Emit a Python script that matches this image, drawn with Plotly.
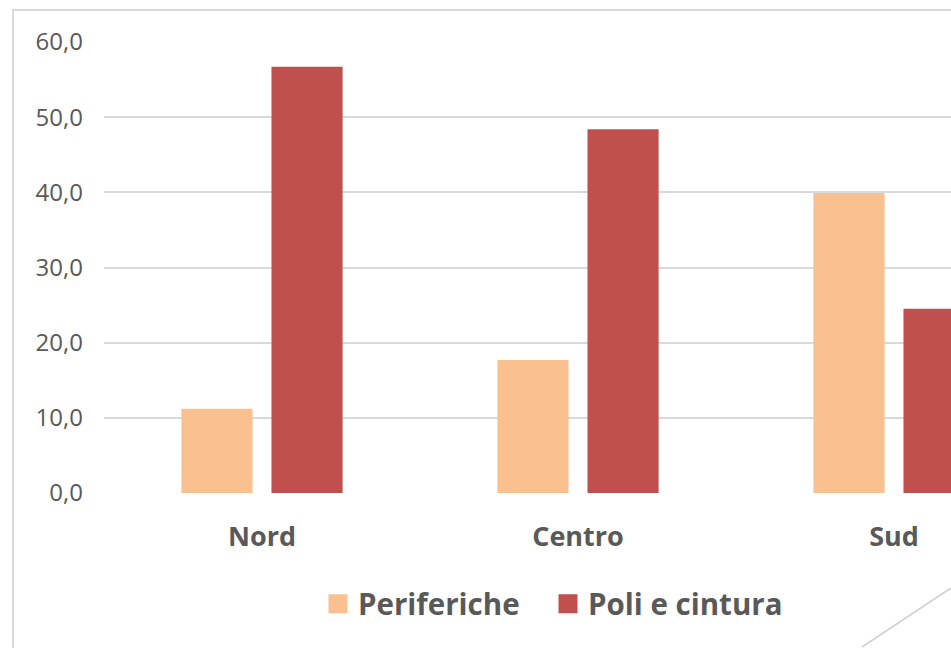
import plotly.graph_objects as go

categories = ["Nord", "Centro", "Sud"]
periferiche = [11.2, 17.7, 39.9]
poli = [56.7, 48.4, 24.5]
series_names = ["Periferiche", "Poli e cintura"]
colors = ["#FAC090", "#C0504D"]
y_ticks = [0, 10, 20, 30, 40, 50, 60]
y_ticktext = ["0,0", "10,0", "20,0", "30,0", "40,0", "50,0", "60,0"]

W, H = 951, 648
ML, MR, MT, MB = 104, 0, 42, 155
PW, PH = W - ML - MR, H - MT - MB


def px(x):
    return (x - ML) / PW


def py(y):
    return (H - MB - y) / PH


legend_ids = ["legend", "legend2"]
fig = go.Figure()
for name, vals, col, lg in zip(series_names, [periferiche, poli], colors, legend_ids):
    fig.add_trace(go.Bar(x=categories, y=vals, name=name, marker_color=col,
                         marker_line_width=0, showlegend=False))
    fig.add_trace(go.Scatter(x=[None], y=[None], mode="markers", name=name,
                             legend=lg,
                             marker=dict(symbol="square", size=16, color=col,
                                         line=dict(color=col, width=3))))

cat_w = 316
x_end = (W - ML) / cat_w - 0.5

legend_font = dict(size=29.5, weight="bold", color="#595959")

fig.update_layout(
    width=W, height=H,
    margin=dict(l=ML, r=MR, t=MT, b=MB, autoexpand=False),
    paper_bgcolor="white", plot_bgcolor="white",
    font=dict(family="Open Sans", color="#595959"),
    barmode="group", bargap=0.43, bargroupgap=0.21,
    xaxis=dict(type="category", range=[-0.5, x_end], showgrid=False,
               showline=False, zeroline=False,
               tickfont=dict(size=27, weight="bold", color="#595959"),
               ticklabelstandoff=25),
    yaxis=dict(range=[0, 60], tickvals=y_ticks, ticktext=y_ticktext,
               showgrid=True, gridcolor="#D9D9D9", gridwidth=2,
               zeroline=False, showline=False,
               tickfont=dict(size=24, color="#595959"),
               ticklabelstandoff=20),
    legend=dict(orientation="h", x=px(318), xanchor="left", y=py(604),
                yanchor="middle", font=legend_font,
                bgcolor="rgba(0,0,0,0)"),
    legend2=dict(orientation="h", x=px(548), xanchor="left", y=py(604),
                 yanchor="middle", font=legend_font,
                 bgcolor="rgba(0,0,0,0)"),
    shapes=[
        dict(type="rect", xref="paper", yref="paper", x0=px(13), y0=py(700),
             x1=px(1100), y1=py(10), line=dict(color="#D9D9D9", width=2),
             layer="below"),
        dict(type="line", xref="paper", yref="paper", x0=px(862), y0=py(647),
             x1=px(951), y1=py(588), line=dict(color="#D0D0D0", width=1.5)),
    ],
)

fig.write_html("out.html", config={"displayModeBar": False},
               post_script="document.body.style.margin='0';document.body.style.overflow='hidden';")
